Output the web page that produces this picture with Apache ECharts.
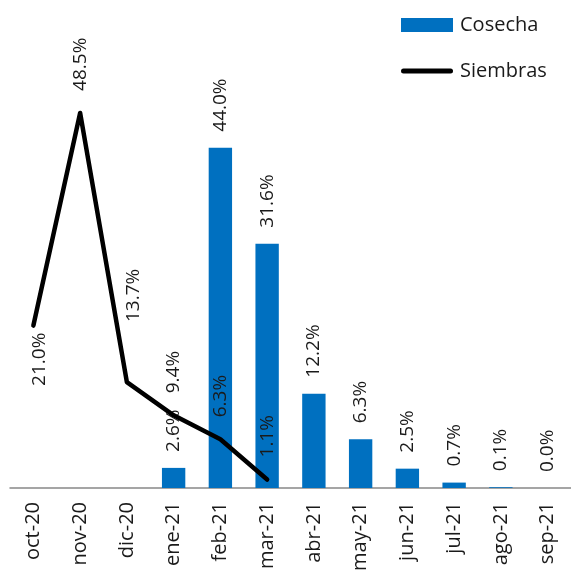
<!DOCTYPE html>
<html>
<head>
    <meta charset="UTF-8">
    <script src="https://cdn.jsdelivr.net/npm/echarts@6/dist/echarts.min.js"></script>
</head>
<body style="margin:0;background-color:#ffffff;">
    <div id="main" style="height:575px;width:571px"></div>
    <script type="text/javascript">
        // datos
        var meses = ['oct-20', 'nov-20', 'dic-20', 'ene-21', 'feb-21', 'mar-21', 'abr-21', 'may-21', 'jun-21', 'jul-21', 'ago-21', 'sep-21'];
        var cosecha = [null, null, null, 2.6, 44.0, 31.6, 12.2, 6.3, 2.5, 0.7, 0.1, 0.0];
        var siembras = [21.0, 48.5, 13.7, 9.4, 6.3, 1.1, null, null, null, null, null, null];

        var fuente = 'Open Sans';
        var colorTexto = '#1a1a1a';

        // etiquetas de siembras: 21.0% va abajo, 13.7% desplazada
        // (el offset va en el sistema rotado: [arriba, derecha])
        var siembrasData = siembras.map(function (v, i) {
            if (i === 0) {
                return {
                    value: v,
                    label: { position: 'bottom', align: 'right', distance: 7, offset: [0, 6] }
                };
            }
            if (i === 2) {
                return { value: v, label: { offset: [38, 7] } };
            }
            return v;
        });

        var myChart = echarts.init(document.getElementById('main'));

        var option = {
            animation: false,
            legend: {
                orient: 'vertical',
                left: 401,
                top: 15,
                padding: 0,
                itemWidth: 52,
                itemHeight: 14,
                itemGap: 26,
                textStyle: { fontFamily: fuente, fontSize: 20, color: colorTexto, padding: [0, 0, 0, 2] },
                data: [
                    { name: 'Cosecha', icon: 'rect' },
                    // linea gruesa con extremos redondeados
                    { name: 'Siembras', icon: 'path://M0,0M2.5,4.5L49.5,4.5A2.5,2.5,0,0,1,49.5,9.5L2.5,9.5A2.5,2.5,0,0,1,2.5,4.5ZM52,14' }
                ]
            },
            grid: { left: 10, right: 0, top: 24, bottom: 87 },
            xAxis: {
                type: 'category',
                data: meses,
                axisLine: { lineStyle: { color: '#888', width: 1.5 } },
                axisTick: { length: 7, lineStyle: { color: '#888', width: 1.5 } },
                axisLabel: {
                    interval: 0,
                    rotate: 90,
                    margin: 14,
                    fontFamily: fuente,
                    fontSize: 20,
                    color: colorTexto
                }
            },
            yAxis: {
                type: 'value',
                min: 0,
                max: 60,
                show: false,
                splitLine: { show: false }
            },
            series: [
                {
                    name: 'Cosecha',
                    type: 'bar',
                    data: cosecha,
                    barWidth: '50%',
                    itemStyle: { color: '#0070C0' },
                    label: {
                        show: true,
                        position: 'top',
                        rotate: 90,
                        align: 'left',
                        verticalAlign: 'middle',
                        distance: 16,
                        fontFamily: fuente,
                        fontSize: 19,
                        color: colorTexto,
                        formatter: function (p) { return p.value.toFixed(1) + '%'; }
                    }
                },
                {
                    name: 'Siembras',
                    type: 'line',
                    data: siembrasData,
                    symbol: 'circle',
                    symbolSize: 0.01,
                    showSymbol: true,
                    lineStyle: { color: '#000', width: 4.5, cap: 'round', join: 'round' },
                    itemStyle: { color: '#000' },
                    label: {
                        show: true,
                        position: 'top',
                        rotate: 90,
                        align: 'left',
                        verticalAlign: 'middle',
                        distance: 22,
                        fontFamily: fuente,
                        fontSize: 19,
                        color: colorTexto,
                        formatter: function (p) { return p.value.toFixed(1) + '%'; }
                    }
                }
            ]
        };

        myChart.setOption(option);
    </script>
</body>
</html>
